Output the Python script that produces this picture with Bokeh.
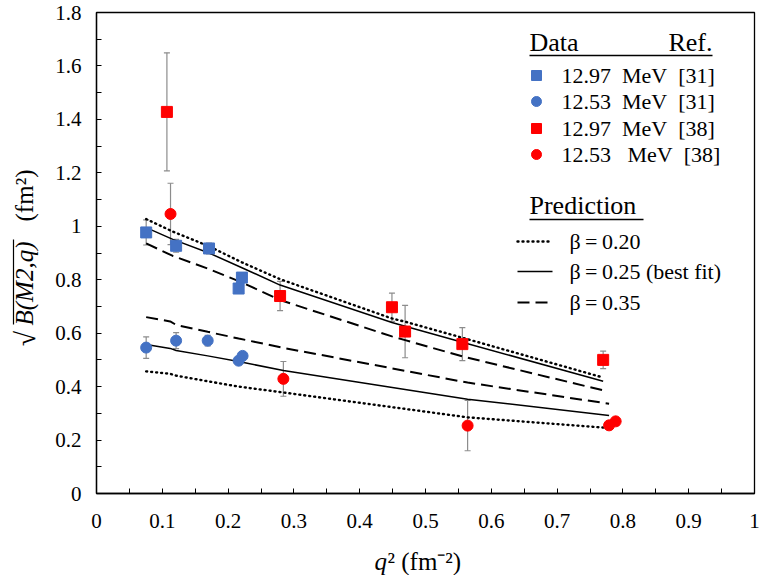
import math
from bokeh.plotting import figure
from bokeh.layouts import row, column
from bokeh.models import FixedTicker, Whisker, ColumnDataSource, TeeHead, Range1d
from bokeh.core.properties import value
from bokeh.embed import file_html
from bokeh.resources import INLINE

# ---------------- data ----------------
# 12.97 MeV, Ref. [31]
bsq_x = [0.0755, 0.121, 0.171, 0.216, 0.221]
bsq_y = [0.977, 0.927, 0.917, 0.767, 0.808]
bsq_err = [0.047, 0.024, 0.02, 0.012, 0.012]
# 12.53 MeV, Ref. [31]
bci_x = [0.0755, 0.121, 0.169, 0.216, 0.222]
bci_y = [0.546, 0.572, 0.572, 0.497, 0.515]
bci_err = [0.04, 0.03, 0.02, 0.012, 0.012]
# 12.97 MeV, Ref. [38]
rsq_x = [0.107, 0.279, 0.449, 0.469, 0.556, 0.770]
rsq_y = [1.428, 0.739, 0.697, 0.606, 0.559, 0.500]
rsq_err = [0.221, 0.055, 0.053, 0.098, 0.062, 0.033]
# 12.53 MeV, Ref. [38]
rci_x = [0.1125, 0.284, 0.564, 0.779, 0.789]
rci_y = [1.046, 0.429, 0.254, 0.255, 0.270]
rci_err = [0.115, 0.065, 0.094, 0.01, 0.01]

# predictions, 12.97 MeV branch
up_x = [0.0755, 0.116, 0.171, 0.221, 0.279, 0.449, 0.469, 0.556, 0.770]
up_b20 = [1.027, 0.980, 0.925, 0.865, 0.802, 0.655, 0.643, 0.583, 0.434]
up_b25 = [0.995, 0.951, 0.900, 0.845, 0.780, 0.640, 0.626, 0.566, 0.420]
up_b35 = [0.936, 0.889, 0.840, 0.790, 0.724, 0.588, 0.574, 0.513, 0.386]
# predictions, 12.53 MeV branch
lo_x = [0.0755, 0.112, 0.121, 0.169, 0.216, 0.284, 0.564, 0.779]
lo_b20 = [0.457, 0.448, 0.441, 0.420, 0.400, 0.378, 0.285, 0.245]
lo_b25 = [0.558, 0.543, 0.535, 0.515, 0.494, 0.460, 0.353, 0.292]
lo_b35 = [0.660, 0.644, 0.631, 0.605, 0.580, 0.545, 0.415, 0.336]

x_ticks = [0, 0.1, 0.2, 0.3, 0.4, 0.5, 0.6, 0.7, 0.8, 0.9, 1]
x_labels = ["0", "0.1", "0.2", "0.3", "0.4", "0.5", "0.6", "0.7", "0.8", "0.9", "1"]
x_minor = [0.05, 0.15, 0.25, 0.35, 0.45, 0.55, 0.65, 0.75, 0.85, 0.95]
y_ticks = [0, 0.2, 0.4, 0.6, 0.8, 1, 1.2, 1.4, 1.6, 1.8]
y_labels = ["0", "0.2", "0.4", "0.6", "0.8", "1", "1.2", "1.4", "1.6", "1.8"]
y_minor = [0.1, 0.3, 0.5, 0.7, 0.9, 1.1, 1.3, 1.5, 1.7]

data_labels = ["12.97\u00a0\u00a0MeV\u00a0\u00a0[31]", "12.53\u00a0\u00a0MeV\u00a0\u00a0[31]",
               "12.97\u00a0\u00a0MeV\u00a0\u00a0[38]", "12.53\u00a0\u00a0\u00a0MeV\u00a0\u00a0[38]"]
pred_labels = ["\u03b2\u2009=\u20090.20", "\u03b2\u2009=\u20090.25 (best fit)", "\u03b2\u2009=\u20090.35"]
x_title = ["q", "\u00b2 (fm\u207b\u00b2)"]
y_title = ["\u221a", "B(M2,q)", "(fm\u00b2)"]

BLUE = "#4472C4"
RED = "#FF0000"
FONT = "Liberation Serif"

# ---------------- geometry (picture pixels; canvas origin sits at picture (1, 1)) ----------------
LW = 40             # strip carrying the y title
MW = 721            # main figure width
MH = 545            # main figure height
BH = 30             # strip carrying the x title
FX0, FW = 97, 658   # frame left / width
FY0, FH = 494, 481  # frame bottom / height


def dx(px):
    return (px - FX0) / FW


def dy(py):
    return (FY0 - py) / FH * 1.8


# ---------------- main figure ----------------
p = figure(width=MW, height=MH, x_range=(0, 1), y_range=(0, 1.8),
           output_backend="svg", toolbar_location=None,
           min_border_left=56, min_border_right=7, min_border_top=12, min_border_bottom=52)
p.background_fill_color = "white"
p.border_fill_color = "white"
p.xgrid.visible = False
p.ygrid.visible = False
p.outline_line_color = "black"
p.outline_line_width = 1.3

for ax, ticks, labels, minor in ((p.xaxis[0], x_ticks, x_labels, x_minor),
                                 (p.yaxis[0], y_ticks, y_labels, y_minor)):
    ax.ticker = FixedTicker(ticks=ticks, minor_ticks=minor)
    ax.major_label_overrides = dict(zip(ticks, labels))
    ax.major_tick_in = 5
    ax.major_tick_out = 0
    ax.minor_tick_in = 5
    ax.minor_tick_out = 0
    ax.axis_line_color = "black"
    ax.axis_line_width = 1.3
    ax.major_tick_line_color = "black"
    ax.minor_tick_line_color = "black"
    ax.major_label_text_font = FONT
    ax.major_label_text_font_size = "21px"
    ax.major_label_text_color = "black"

p.xaxis.major_label_standoff = 20
p.yaxis.major_label_standoff = 15

# prediction curves
dot = dict(line_dash="1 4", line_width=2.4, line_cap="round", line_color="black")
sol = dict(line_width=1.5, line_color="black")
dsh = dict(line_dash="12 6", line_width=2.0, line_color="black")
p.line(up_x, up_b20, **dot)
p.line(up_x, up_b25, **sol)
p.line(up_x, up_b35, **dsh)
p.line(lo_x, lo_b20, **dot)
p.line(lo_x, lo_b25, **sol)
p.line(lo_x, lo_b35, **dsh)

# error bars
for xs, ys, es in ((bsq_x, bsq_y, bsq_err), (bci_x, bci_y, bci_err),
                   (rsq_x, rsq_y, rsq_err), (rci_x, rci_y, rci_err)):
    src = ColumnDataSource(dict(x=xs, lo=[y - e for y, e in zip(ys, es)],
                                hi=[y + e for y, e in zip(ys, es)]))
    w = Whisker(base="x", lower="lo", upper="hi", source=src, line_color="#8c8c8c", line_width=1.2,
                upper_head=TeeHead(size=6, line_color="#8c8c8c", line_width=1.2),
                lower_head=TeeHead(size=6, line_color="#8c8c8c", line_width=1.2))
    p.add_layout(w)

# markers
p.scatter(bsq_x, bsq_y, marker="square", size=11, color=BLUE)
p.scatter(bci_x, bci_y, marker="circle", size=11, color=BLUE)
p.scatter(rsq_x, rsq_y, marker="square", size=11, color=RED)
p.scatter(rci_x, rci_y, marker="circle", size=11, color=RED)

# legend (hand-made)
txt = dict(text_font=value(FONT), text_font_size="22px", text_baseline="middle", text_color="black")
hdr = dict(txt, text_font_size="26px")
p.text([dx(530)], [dy(43)], text=["Data"], text_align="left", **hdr)
p.text([dx(713)], [dy(43)], text=["Ref."], text_align="right", **hdr)
p.line([dx(530), dx(713)], [dy(56), dy(56)], line_color="black", line_width=1.3)

rows = [76, 102, 129, 155]
p.scatter([dx(537)], [dy(rows[0])], marker="square", size=10, color=BLUE)
p.scatter([dx(537)], [dy(rows[1])], marker="circle", size=10, color=BLUE)
p.scatter([dx(537)], [dy(rows[2])], marker="square", size=10, color=RED)
p.scatter([dx(537)], [dy(rows[3])], marker="circle", size=10, color=RED)
p.text([dx(562)] * 4, [dy(r) for r in rows], text=data_labels, text_align="left", **txt)

p.text([dx(530)], [dy(206)], text=["Prediction"], text_align="left", **hdr)
p.line([dx(530), dx(644)], [dy(220), dy(220)], line_color="black", line_width=1.3)
prow = [242, 272, 303]
p.line([dx(518), dx(553)], [dy(prow[0])] * 2, **dot)
p.line([dx(518), dx(553)], [dy(prow[1])] * 2, **sol)
p.line([dx(518), dx(553)], [dy(prow[2])] * 2, **dsh)
p.text([dx(570)] * 3, [dy(r) for r in prow], text=pred_labels, text_align="left", **txt)


def strip(w, h, xr, yr, **kw):
    f = figure(width=w, height=h, x_range=xr, y_range=yr, output_backend="svg",
               toolbar_location=None, min_border=0, **kw)
    f.axis.visible = False
    f.grid.visible = False
    f.outline_line_color = None
    f.background_fill_color = "white"
    f.border_fill_color = "white"
    return f


# ---------------- bottom strip: x title ----------------
pb = strip(MW, BH, p.x_range, Range1d(0, BH), min_border_left=56, min_border_right=7)
tt = dict(text_font=value(FONT), text_baseline="middle", text_color="black", text_align="left")
pb.text([dx(375)], [14], text=[x_title[0]], text_font_style="italic", text_font_size="25px", **tt)
pb.text([dx(388)], [14], text=[x_title[1]], text_font_size="25px", **tt)

# ---------------- left strip: y title (x = picture px, y = picture px measured upward) ----------------
pl = strip(LW, MH + BH, Range1d(1, 1 + LW), Range1d(0, MH + BH))


def ly(py):
    return 1 + MH + BH - py


ang = dict(angle=math.pi / 2, text_font=value(FONT), text_baseline="middle",
           text_color="black", text_align="center")
pl.text([26], [ly(339)], text=[y_title[0]], text_font_size="28px", **ang)
pl.text([25], [ly(284)], text=[y_title[1]], text_font_size="25px", text_font_style="italic", **ang)
pl.text([25], [ly(196)], text=[y_title[2]], text_font_size="25px", **ang)
pl.line([14, 14], [ly(325), ly(240)], line_color="black", line_width=1.2)

layout = row(pl, column(p, pb, spacing=0), spacing=0)
open("out.html", "w").write(file_html(layout, INLINE))
